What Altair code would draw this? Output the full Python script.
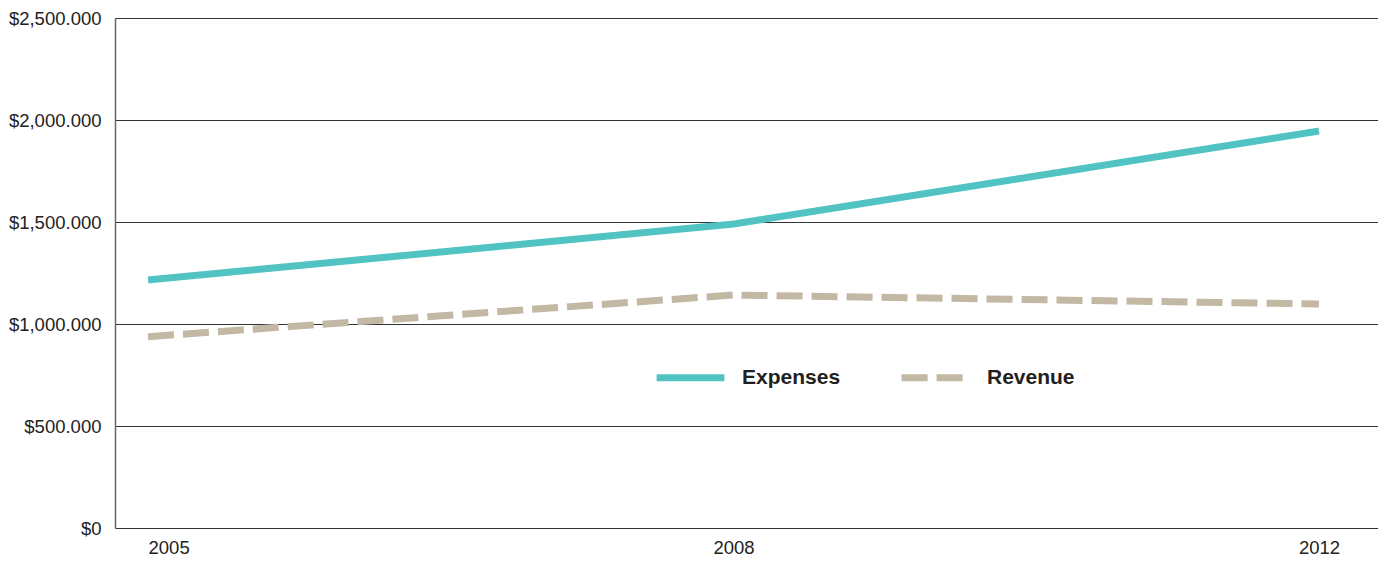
import altair as alt
import pandas as pd

years = ["2005", "2008", "2012"]
expenses = [1216000, 1490000, 1946000]
revenue = [938000, 1142000, 1098000]
series_names = ["Expenses", "Revenue"]
series_colors = ["#52C3C3", "#C2B8A4"]
y_ticks = [0, 500000, 1000000, 1500000, 2000000, 2500000]

rows = []
for y, e, r in zip(years, expenses, revenue):
    rows.append({"year": y, "series": "Expenses", "value": e})
    rows.append({"year": y, "series": "Revenue", "value": r})
df = pd.DataFrame(rows)

AXIS_FONT = "Liberation Sans"
LEG_FONT = "Liberation Sans"

def make_legend():
    return alt.Legend(orient="none", legendX=538, legendY=322,
                      direction="horizontal", title=None,
                      symbolType="stroke", symbolSize=4600,
                      symbolStrokeWidth=7, labelFont=LEG_FONT,
                      labelFontSize=21, labelFontWeight="bold",
                      labelColor="#231F20", labelOffset=14,
                      columnPadding=46, padding=0)

chart = alt.Chart(df).mark_line(strokeWidth=7, strokeCap="butt").encode(
    x=alt.X("year:N", sort=years,
            scale=alt.Scale(type="point", padding=0.0786, align=0.359),
            axis=alt.Axis(title=None, domain=False, ticks=False, grid=False,
                          labelAngle=0, labelFont=AXIS_FONT, labelFontSize=18.5,
                          labelColor="#222222", labelPadding=10,
                          labelAlign={"condition": {"test": "datum.label == '2005'", "value": "left"},
                                      "value": "center"})),
    y=alt.Y("value:Q", scale=alt.Scale(domain=[0, 2500000], nice=False),
            axis=alt.Axis(title=None, values=y_ticks, ticks=False,
                          domain=True, domainColor="#666666", domainWidth=1.5,
                          grid=True, gridColor="#333333", gridWidth=1, gridOpacity=1,
                          labelFont=AXIS_FONT, labelFontSize=18.5, labelColor="#222222",
                          labelPadding=14,
                          labelExpr="datum.value == 0 ? '$0' : '$' + format(datum.value/1000, ',.3f')")),
    color=alt.Color("series:N",
                    scale=alt.Scale(domain=series_names, range=series_colors),
                    legend=make_legend()),
    strokeDash=alt.StrokeDash("series:N",
                              scale=alt.Scale(domain=series_names, range=[[1, 0], [26, 9]]),
                              legend=make_legend()),
).properties(
    width=1263, height=510,
    autosize=alt.AutoSizeParams(type="none"),
    padding={"left": 107, "top": 10, "right": 0, "bottom": 32},
    background="white",
).configure_view(stroke=None)

chart.save("out.html", embed_options={"renderer": "svg", "actions": False})
